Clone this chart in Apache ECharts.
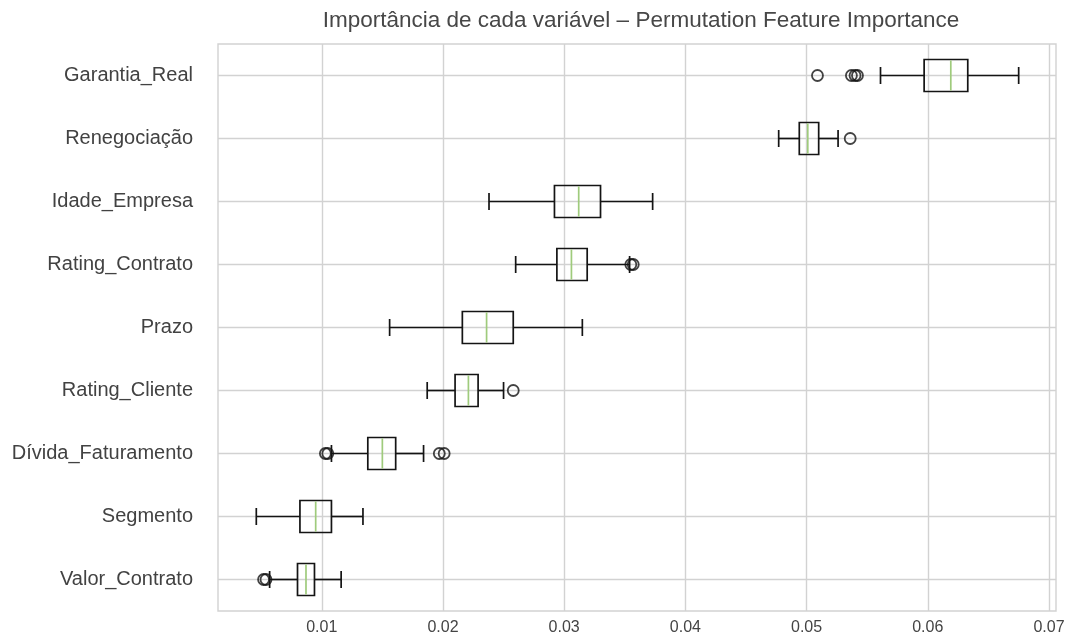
<!DOCTYPE html>
<html>
<head>
<meta charset="utf-8">
<script src="https://cdn.jsdelivr.net/npm/echarts@6/dist/echarts.min.js"></script>
<style>
  html, body { margin: 0; padding: 0; background: #ffffff; }
  #chart { width: 1069px; height: 639px; }
</style>
</head>
<body>
<div id="chart"></div>
<script>
// Permutation importance per feature, top to bottom
const categories = ['Garantia_Real', 'Renegociação', 'Idade_Empresa', 'Rating_Contrato', 'Prazo',
  'Rating_Cliente', 'Dívida_Faturamento', 'Segmento', 'Valor_Contrato'];
const whiskerLow  = [0.0561, 0.0477, 0.0238, 0.0260, 0.0156, 0.0187, 0.0108, 0.0046, 0.0057];
const q1          = [0.0597, 0.0494, 0.0292, 0.0294, 0.0216, 0.0210, 0.0138, 0.0082, 0.0080];
const median      = [0.0619, 0.0501, 0.0312, 0.0306, 0.0236, 0.0221, 0.0150, 0.0095, 0.0087];
const q3          = [0.0633, 0.0510, 0.0330, 0.0319, 0.0258, 0.0229, 0.0161, 0.0108, 0.0094];
const whiskerHigh = [0.0675, 0.0526, 0.0373, 0.0354, 0.0315, 0.0250, 0.0184, 0.0134, 0.0116];
// [category index, value]
const outliers = [
  [0, 0.0509], [0, 0.0537], [0, 0.0540], [0, 0.0542],
  [1, 0.0536],
  [3, 0.0355], [3, 0.0357],
  [5, 0.0258],
  [6, 0.0103], [6, 0.0105], [6, 0.0197], [6, 0.0201],
  [8, 0.0052], [8, 0.0054]
];
const xTicks = [0.01, 0.02, 0.03, 0.04, 0.05, 0.06, 0.07];
const xMin = 0.00144;
const xMax = 0.07058;

const boxData = categories.map((c, i) => [i, whiskerLow[i], q1[i], median[i], q3[i], whiskerHigh[i]]);
const outlierData = outliers.map(o => [o[1], o[0]]);

const INK = '#141414';
const MEDIAN = '#9fcb7c';
const GRID = '#d2d2d2';

function renderBox(params, api) {
  const cat = api.value(0);
  const pLo = api.coord([api.value(1), cat]);
  const pQ1 = api.coord([api.value(2), cat]);
  const pMd = api.coord([api.value(3), cat]);
  const pQ3 = api.coord([api.value(4), cat]);
  const pHi = api.coord([api.value(5), cat]);
  const band = api.size([0, 1])[1];
  const half = band * 0.254;
  const cap = band * 0.135;
  const y = pMd[1];
  const line = { stroke: INK, lineWidth: 1.7, fill: null };
  return {
    type: 'group',
    children: [
      { type: 'line', shape: { x1: pLo[0], y1: y, x2: pQ1[0], y2: y }, style: line },
      { type: 'line', shape: { x1: pQ3[0], y1: y, x2: pHi[0], y2: y }, style: line },
      { type: 'line', shape: { x1: pLo[0], y1: y - cap, x2: pLo[0], y2: y + cap }, style: line },
      { type: 'line', shape: { x1: pHi[0], y1: y - cap, x2: pHi[0], y2: y + cap }, style: line },
      { type: 'rect', shape: { x: pQ1[0], y: y - half, width: pQ3[0] - pQ1[0], height: 2 * half },
        style: { stroke: INK, lineWidth: 1.7, fill: 'rgba(0,0,0,0)' } },
      { type: 'line', shape: { x1: pMd[0], y1: y - half + 0.9, x2: pMd[0], y2: y + half - 0.9 },
        style: { stroke: MEDIAN, lineWidth: 1.7 } }
    ]
  };
}

const chart = echarts.init(document.getElementById('chart'), null, { renderer: 'canvas' });
chart.setOption({
  backgroundColor: '#ffffff',
  animation: false,
  textStyle: { fontFamily: 'Liberation Sans, Arial, sans-serif' },
  title: {
    text: 'Importância de cada variável – Permutation Feature Importance',
    left: 636,
    top: 4,
    textAlign: 'center',
    textStyle: { fontSize: 22.5, fontWeight: 'normal', color: '#474747', fontFamily: 'Liberation Sans, Arial, sans-serif' }
  },
  grid: {
    left: 218, right: 13, top: 44, bottom: 28,
    show: true, borderColor: GRID, borderWidth: 1.4, backgroundColor: '#ffffff'
  },
  xAxis: {
    type: 'value',
    min: xMin,
    max: xMax,
    axisLine: { show: false },
    axisTick: { show: false, customValues: xTicks },
    axisLabel: {
      customValues: xTicks,
      formatter: v => String(Math.round(v * 100) / 100),
      fontSize: 16, color: '#444444', margin: 9
    },
    splitLine: { show: true, lineStyle: { color: GRID, width: 1.4 } }
  },
  yAxis: {
    type: 'category',
    data: categories,
    inverse: true,
    boundaryGap: true,
    axisLine: { show: false },
    axisTick: { show: false, alignWithLabel: true },
    axisLabel: { fontSize: 20, color: '#424242', margin: 25 },
    splitLine: { show: true, alignWithLabel: true, lineStyle: { color: GRID, width: 1.4 } }
  },
  series: [
    {
      type: 'custom',
      renderItem: renderBox,
      data: boxData,
      encode: { x: [1, 2, 3, 4, 5], y: 0 },
      z: 3
    },
    {
      type: 'scatter',
      data: outlierData,
      symbol: 'circle',
      symbolSize: 11,
      itemStyle: { color: 'rgba(255,255,255,0)', borderColor: INK, borderWidth: 1.8 },
      z: 4
    }
  ]
});
</script>
</body>
</html>
